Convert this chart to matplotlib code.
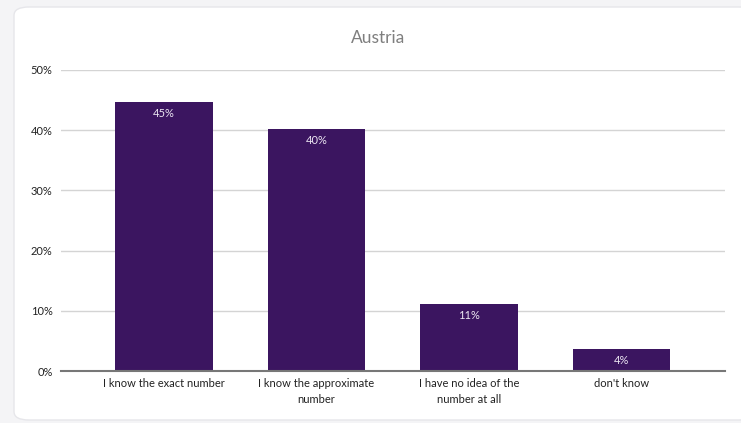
import matplotlib.pyplot as plt
from matplotlib.patches import FancyBboxPatch
from matplotlib.ticker import PercentFormatter

categories = ["I know the exact number", "I know the approximate\nnumber",
              "I have no idea of the\nnumber at all", "don't know"]
values = [0.447, 0.402, 0.111, 0.036]
value_labels = ["45%", "40%", "11%", "4%"]

plt.rcParams['font.family'] = ['Lato', 'DejaVu Sans']

fig = plt.figure(figsize=(7.41, 4.23), dpi=100)
fig.patch.set_facecolor("#f4f4f6")

# white card behind the chart
card = FancyBboxPatch((14 / 741, 3 / 423), 740 / 741, 413 / 423,
                      boxstyle="round,pad=0,rounding_size=0.02",
                      transform=fig.transFigure, facecolor="white",
                      edgecolor="#e6e6ea", linewidth=1.0, zorder=-10)
fig.patches.append(card)

ax = fig.add_axes([61 / 741, 1 - 371 / 423, 664 / 741, 301 / 423], zorder=1)
ax.set_facecolor("none")

x = range(len(categories))
bars = ax.bar(x, values, width=0.64, color="#3b1560", zorder=3)
for b, lab in zip(bars, value_labels):
    ax.text(b.get_x() + b.get_width() / 2, b.get_height() - 0.0095, lab,
            ha="center", va="top", color="#ece6f2", fontsize=8, zorder=4)

ax.set_xlim(-0.675, 3.68)
ax.set_ylim(0, 0.5)
ax.set_yticks([0, 0.1, 0.2, 0.3, 0.4, 0.5])
ax.yaxis.set_major_formatter(PercentFormatter(1.0, decimals=0))
ax.set_xticks(list(x))
ax.set_xticklabels(categories, fontsize=8, color="#222222", linespacing=1.6)
ax.tick_params(axis="y", length=0, labelsize=8, labelcolor="#222222", pad=6)
ax.tick_params(axis="x", length=0, pad=5)

ax.grid(axis="y", color="#d4d4d4", linewidth=1.0, zorder=0)
for s in ["top", "right", "left"]:
    ax.spines[s].set_visible(False)
ax.spines["bottom"].set_color("#777777")
ax.spines["bottom"].set_linewidth(1.5)
ax.spines["bottom"].set_zorder(5)

fig.text(378 / 741, 1 - 38 / 423, "Austria", ha="center", va="center",
         fontsize=12.5, color="#7f7f7f")

fig.savefig("out.png", dpi=100, facecolor=fig.get_facecolor())
